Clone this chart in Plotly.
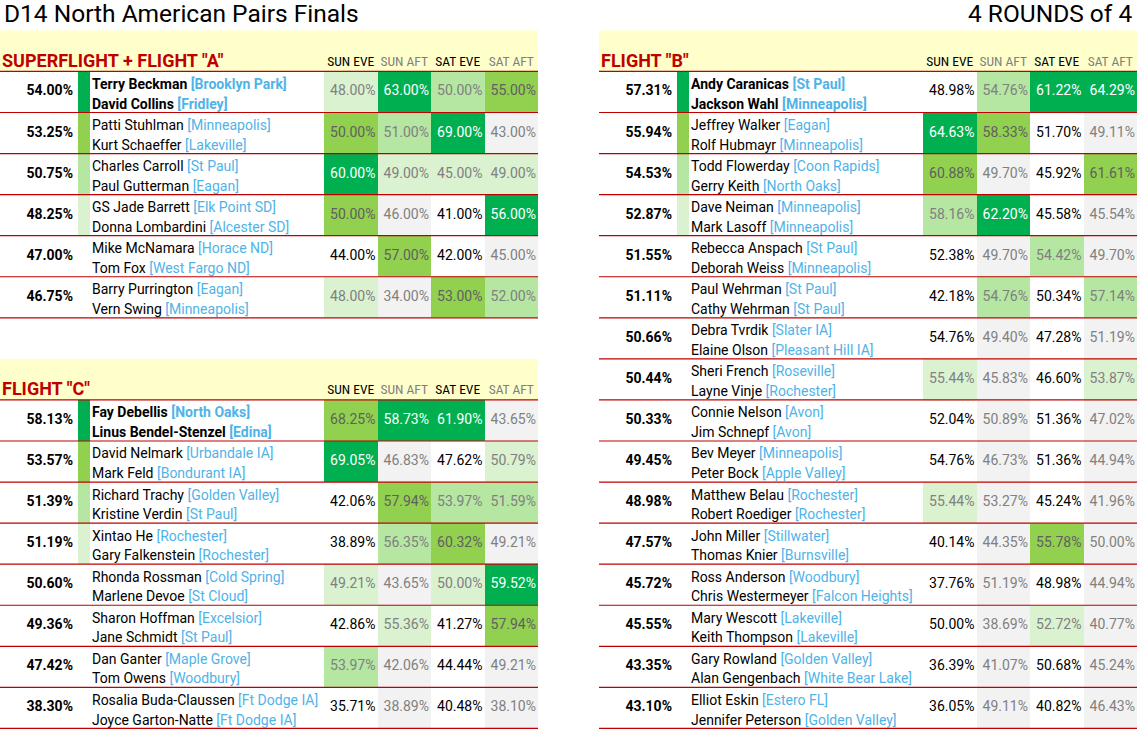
import plotly.graph_objects as go

# ---------------- data ----------------
ROUNDS = ["SUN EVE", "SUN AFT", "SAT EVE", "SAT AFT"]

# SUPERFLIGHT + FLIGHT "A"
a_player1 = ["Terry Beckman", "Patti Stuhlman", "Charles Carroll", "GS Jade Barrett",
             "Mike McNamara", "Barry Purrington"]
a_club1 = ["Brooklyn Park", "Minneapolis", "St Paul", "Elk Point SD", "Horace ND", "Eagan"]
a_player2 = ["David Collins", "Kurt Schaeffer", "Paul Gutterman", "Donna Lombardini",
             "Tom Fox", "Vern Swing"]
a_club2 = ["Fridley", "Lakeville", "Eagan", "Alcester SD", "West Fargo ND", "Minneapolis"]
a_total = [54.00, 53.25, 50.75, 48.25, 47.00, 46.75]
a_sun_eve = [48.00, 50.00, 60.00, 50.00, 44.00, 48.00]
a_sun_aft = [63.00, 51.00, 49.00, 46.00, 57.00, 34.00]
a_sat_eve = [50.00, 69.00, 45.00, 41.00, 42.00, 53.00]
a_sat_aft = [55.00, 43.00, 49.00, 56.00, 45.00, 52.00]

# FLIGHT "B"
b_player1 = ["Andy Caranicas", "Jeffrey Walker", "Todd Flowerday", "Dave Neiman",
             "Rebecca Anspach", "Paul Wehrman", "Debra Tvrdik", "Sheri French",
             "Connie Nelson", "Bev Meyer", "Matthew Belau", "John Miller",
             "Ross Anderson", "Mary Wescott", "Gary Rowland", "Elliot Eskin"]
b_club1 = ["St Paul", "Eagan", "Coon Rapids", "Minneapolis", "St Paul", "St Paul",
           "Slater IA", "Roseville", "Avon", "Minneapolis", "Rochester", "Stillwater",
           "Woodbury", "Lakeville", "Golden Valley", "Estero FL"]
b_player2 = ["Jackson Wahl", "Rolf Hubmayr", "Gerry Keith", "Mark Lasoff",
             "Deborah Weiss", "Cathy Wehrman", "Elaine Olson", "Layne Vinje",
             "Jim Schnepf", "Peter Bock", "Robert Roediger", "Thomas Knier",
             "Chris Westermeyer", "Keith Thompson", "Alan Gengenbach", "Jennifer Peterson"]
b_club2 = ["Minneapolis", "Minneapolis", "North Oaks", "Minneapolis", "Minneapolis",
           "St Paul", "Pleasant Hill IA", "Rochester", "Avon", "Apple Valley", "Rochester",
           "Burnsville", "Falcon Heights", "Lakeville", "White Bear Lake", "Golden Valley"]
b_total = [57.31, 55.94, 54.53, 52.87, 51.55, 51.11, 50.66, 50.44,
           50.33, 49.45, 48.98, 47.57, 45.72, 45.55, 43.35, 43.10]
b_sun_eve = [48.98, 64.63, 60.88, 58.16, 52.38, 42.18, 54.76, 55.44,
             52.04, 54.76, 55.44, 40.14, 37.76, 50.00, 36.39, 36.05]
b_sun_aft = [54.76, 58.33, 49.70, 62.20, 49.70, 54.76, 49.40, 45.83,
             50.89, 46.73, 53.27, 44.35, 51.19, 38.69, 41.07, 49.11]
b_sat_eve = [61.22, 51.70, 45.92, 45.58, 54.42, 50.34, 47.28, 46.60,
             51.36, 51.36, 45.24, 55.78, 48.98, 52.72, 50.68, 40.82]
b_sat_aft = [64.29, 49.11, 61.61, 45.54, 49.70, 57.14, 51.19, 53.87,
             47.02, 44.94, 41.96, 50.00, 44.94, 40.77, 45.24, 46.43]

# FLIGHT "C"
c_player1 = ["Fay Debellis", "David Nelmark", "Richard Trachy", "Xintao He",
             "Rhonda Rossman", "Sharon Hoffman", "Dan Ganter", "Rosalia Buda-Claussen"]
c_club1 = ["North Oaks", "Urbandale IA", "Golden Valley", "Rochester", "Cold Spring",
           "Excelsior", "Maple Grove", "Ft Dodge IA"]
c_player2 = ["Linus Bendel-Stenzel", "Mark Feld", "Kristine Verdin", "Gary Falkenstein",
             "Marlene Devoe", "Jane Schmidt", "Tom Owens", "Joyce Garton-Natte"]
c_club2 = ["Edina", "Bondurant IA", "St Paul", "Rochester", "St Cloud", "St Paul",
           "Woodbury", "Ft Dodge IA"]
c_total = [58.13, 53.57, 51.39, 51.19, 50.60, 49.36, 47.42, 38.30]
c_sun_eve = [68.25, 69.05, 42.06, 38.89, 49.21, 42.86, 53.97, 35.71]
c_sun_aft = [58.73, 46.83, 57.94, 56.35, 43.65, 55.36, 42.06, 38.89]
c_sat_eve = [61.90, 47.62, 53.97, 60.32, 50.00, 41.27, 44.44, 40.48]
c_sat_aft = [43.65, 50.79, 51.59, 49.21, 59.52, 57.94, 49.21, 38.10]

# ---------------- styling ----------------
W, H = 1141, 732
ROW_H = 41.06          # px per spreadsheet row
HEADER_TOP = 30.4      # px, top of the first header row
COL_W = [78, 12, 234, 53.5, 53.5, 53.5, 53.5]

BODY_FONT = "Roboto, Liberation Sans, sans-serif"
NARROW_FONT = "Liberation Sans Narrow, Roboto Condensed, DejaVu Sans Condensed, sans-serif"
RED = "#C00000"
CLUB_BLUE = "#4FB3E8"
GRAY_TEXT = "#808080"

# 0 white, 1 grey, 2..5 greens by rank (4th..1st), 6 header yellow
PALETTE = ["#FFFFFF", "#F2F2F2", "#DAF2D0", "#B5E6A2", "#92D050", "#00B050", "#FFFFCC"]
colorscale = []
for i, c in enumerate(PALETTE):
    colorscale += [[i / len(PALETTE), c], [(i + 1) / len(PALETTE), c]]


def px_to_row(py):
    return -0.5 + (py - HEADER_TOP) / ROW_H


def rank_levels(values):
    """Excel-style RANK (ties share rank); top 4 get a green level."""
    lv = []
    for v in values:
        r = 1 + sum(1 for w in values if w > v)
        lv.append({1: 5, 2: 4, 3: 3, 4: 2}.get(r))
    return lv


def add_table(fig, x0, first_row, title, p1, c1, p2, c2, total, rounds):
    edges = [x0]
    for w in COL_W:
        edges.append(edges[-1] + w)
    n = len(total)
    rows = list(range(first_row + 1, first_row + n + 1))

    strip = rank_levels(total)
    rlev = [rank_levels(r) for r in rounds]

    z = [[6] * len(COL_W)]
    txt_colors = []
    for i in range(n):
        row = [0, strip[i] or 0, 0]
        tc = []
        for j in range(4):
            lvl = rlev[j][i]
            default = 0 if j % 2 == 0 else 1
            row.append(lvl if lvl is not None else default)
            if lvl == 5:
                tc.append("white")
            elif lvl == 4:
                tc.append("#606060")
            elif lvl is not None:
                tc.append(GRAY_TEXT)
            else:
                tc.append("black" if j % 2 == 0 else GRAY_TEXT)
        z.append(row)
        txt_colors.append(tc)

    fig.add_trace(go.Heatmap(
        x=edges, y=[first_row] + rows, z=z,
        colorscale=colorscale, zmin=-0.5, zmax=len(PALETTE) - 0.5,
        showscale=False, hoverinfo="skip",
    ))

    # red row separators
    lx, ly = [], []
    for k in range(first_row, first_row + n + 1):
        lx += [edges[0], edges[-1], None]
        ly += [k + 0.5, k + 0.5, None]
    fig.add_trace(go.Scatter(x=lx, y=ly, mode="lines",
                             line=dict(color=RED, width=1.2), hoverinfo="skip"))

    # header texts
    fig.add_trace(go.Scatter(
        x=[x0 + 2], y=[first_row + 0.27], mode="text", text=[title],
        textposition="middle right",
        textfont=dict(family=BODY_FONT, size=18, color=RED, weight="bold"),
        hoverinfo="skip"))
    centers = [(edges[3 + j] + edges[4 + j]) / 2 for j in range(4)]
    fig.add_trace(go.Scatter(
        x=centers, y=[first_row + 0.28] * 4, mode="text", text=ROUNDS,
        textposition="middle center",
        textfont=dict(family=NARROW_FONT, size=13.5,
                      color=["black", GRAY_TEXT, "black", GRAY_TEXT]),
        hoverinfo="skip"))

    # total percentage
    fig.add_trace(go.Scatter(
        x=[edges[1] - 5] * n, y=rows, mode="text",
        text=[f"{v:.2f}%" for v in total], textposition="middle left",
        textfont=dict(family=BODY_FONT, size=14, color="black", weight="bold"),
        hoverinfo="skip"))

    # player names with clubs
    def name_line(players, clubs):
        out = []
        for i, (p, c) in enumerate(zip(players, clubs)):
            s = f"{p} <span style='color:{CLUB_BLUE}'>[{c}]</span>"
            out.append(f"<b>{s}</b>" if strip[i] == 5 else s)
        return out

    for names, dy in ((name_line(p1, c1), -0.16), (name_line(p2, c2), 0.32)):
        fig.add_trace(go.Scatter(
            x=[edges[2] + 2] * n, y=[r + dy for r in rows], mode="text",
            text=names, textposition="middle right",
            textfont=dict(family=BODY_FONT, size=14, color="black"),
            hoverinfo="skip"))

    # round scores
    rx, ry, rt, rc = [], [], [], []
    for j in range(4):
        for i in range(n):
            rx.append(edges[4 + j] - 2)
            ry.append(rows[i])
            rt.append(f"{rounds[j][i]:.2f}%")
            rc.append(txt_colors[i][j])
    fig.add_trace(go.Scatter(
        x=rx, y=ry, mode="text", text=rt, textposition="middle left",
        textfont=dict(family=BODY_FONT, size=14, color=rc),
        hoverinfo="skip"))


fig = go.Figure()
add_table(fig, 0, 0, 'SUPERFLIGHT + FLIGHT "A"', a_player1, a_club1, a_player2, a_club2,
          a_total, [a_sun_eve, a_sun_aft, a_sat_eve, a_sat_aft])
add_table(fig, 0, 8, 'FLIGHT "C"', c_player1, c_club1, c_player2, c_club2,
          c_total, [c_sun_eve, c_sun_aft, c_sat_eve, c_sat_aft])
add_table(fig, 599, 0, 'FLIGHT "B"', b_player1, b_club1, b_player2, b_club2,
          b_total, [b_sun_eve, b_sun_aft, b_sat_eve, b_sat_aft])

title_y = px_to_row(13)

fig.update_layout(
    width=W, height=H,
    margin=dict(l=0, r=0, t=0, b=0),
    paper_bgcolor="white", plot_bgcolor="white",
    showlegend=False,
    xaxis=dict(range=[0, W], visible=False, fixedrange=True),
    yaxis=dict(range=[px_to_row(H), px_to_row(0)], visible=False, fixedrange=True),
    annotations=[
        dict(text="D14 North American Pairs Finals", x=2, y=title_y,
             xref="x", yref="y", xanchor="left", yanchor="middle",
             showarrow=False, font=dict(family=BODY_FONT, size=24.5, color="black")),
        dict(text="4 ROUNDS of 4", x=1134, y=title_y,
             xref="x", yref="y", xanchor="right", yanchor="middle",
             showarrow=False, font=dict(family=BODY_FONT, size=24.5, color="black")),
    ],
)

# drop the page's default body margin so the figure sits at the window corner
fig.write_html("out.html", config={"displayModeBar": False},
               post_script="document.body.style.margin='0';")
